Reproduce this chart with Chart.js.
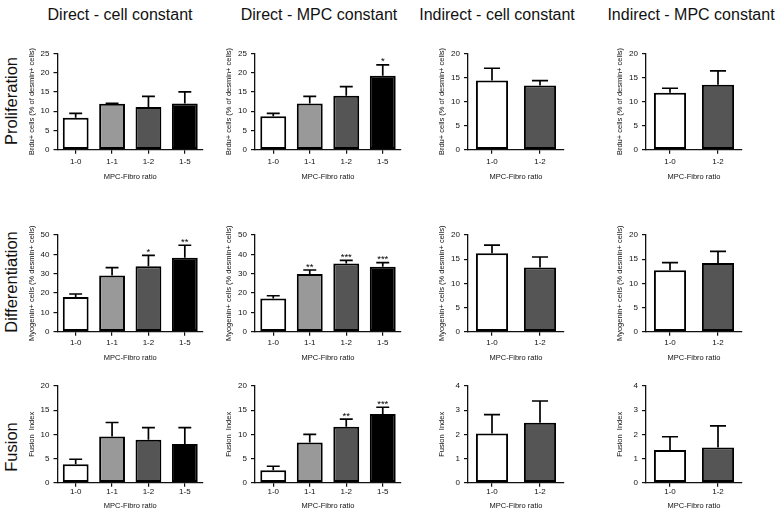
<!DOCTYPE html>
<html><head><meta charset="utf-8">
<script src="https://cdn.jsdelivr.net/npm/chart.js@4.4.1/dist/chart.umd.min.js"></script>
<style>
html,body{margin:0;padding:0;background:#fff}
body{width:778px;height:511px;position:relative;overflow:hidden;font-family:"Liberation Sans",Arial,Helvetica,sans-serif;color:#111}
.t{position:absolute;font-size:16px;white-space:nowrap;transform:translate(-50%,-50%)}
.r{position:absolute;font-size:16.5px;white-space:nowrap;transform:translate(-50%,-50%) rotate(-90deg)}
canvas{position:absolute}
</style></head><body>
<script>
// ---- categories / labels ----
const directCats = ['1-0', '1-1', '1-2', '1-5'];
const indirectCats = ['1-0', '1-2'];
const colTitles = ['Direct - cell constant', 'Direct - MPC constant', 'Indirect - cell constant', 'Indirect - MPC constant'];
const rowTitles = ['Proliferation', 'Differentiation', 'Fusion'];
const yTitles = ['Brdu+ cells (% of desmin+ cells)', 'Myogenin+ cells (% desmin+ cells)', 'Fusion  Index'];
const xTitle = 'MPC-Fibro ratio';

// ---- y-axis ranges (tick labels) ----
const directYMax = [25, 50, 20];
const directYStep = [5, 10, 5];
const indirectYMax = [20, 20, 4];
const indirectYStep = [5, 5, 1];

// ---- Proliferation ----
const prolifDirectCellMean = [8.3, 11.9, 11.1, 12.0];
const prolifDirectCellSem  = [1.1, 0.15, 2.75, 3.0];
const prolifDirectCellStars = ['', '', '', ''];
const prolifDirectMpcMean = [8.65, 12.0, 14.0, 19.2];
const prolifDirectMpcSem  = [0.75, 1.85, 2.35, 2.8];
const prolifDirectMpcStars = ['', '', '', '*'];
const prolifIndirectCellMean = [14.35, 13.3];
const prolifIndirectCellSem  = [2.55, 1.05];
const prolifIndirectMpcMean = [11.8, 13.45];
const prolifIndirectMpcSem  = [0.95, 2.9];

// ---- Differentiation ----
const diffDirectCellMean = [17.9, 29.1, 33.8, 38.3];
const diffDirectCellSem  = [1.6, 4.0, 5.7, 6.4];
const diffDirectCellStars = ['', '', '*', '**'];
const diffDirectMpcMean = [17.2, 29.8, 35.2, 33.6];
const diffDirectMpcSem  = [1.4, 2.1, 1.7, 2.1];
const diffDirectMpcStars = ['', '**', '***', '***'];
const diffIndirectCellMean = [16.2, 13.3];
const diffIndirectCellSem  = [1.7, 2.15];
const diffIndirectMpcMean = [12.7, 14.2];
const diffIndirectMpcSem  = [1.6, 2.4];

// ---- Fusion ----
const fusDirectCellMean = [3.8, 9.55, 8.9, 8.0];
const fusDirectCellSem  = [1.05, 2.9, 2.5, 3.4];
const fusDirectCellStars = ['', '', '', ''];
const fusDirectMpcMean = [2.55, 8.3, 11.55, 14.2];
const fusDirectMpcSem  = [0.85, 1.7, 1.6, 1.4];
const fusDirectMpcStars = ['', '', '**', '***'];
const fusIndirectCellMean = [2.04, 2.48];
const fusIndirectCellSem  = [0.78, 0.9];
const fusIndirectMpcMean = [1.35, 1.46];
const fusIndirectMpcSem  = [0.55, 0.89];

// ---- styling / layout (not data) ----
const catColor = {'1-0': '#ffffff', '1-1': '#999999', '1-2': '#555555', '1-5': '#000000'};
const FONT = '"Liberation Sans", Arial, Helvetica, sans-serif';
const cols = [
  {axis: 57.5, end: 203, cx: 120},
  {axis: 255, end: 401, cx: 319},
  {axis: 468, end: 564, cx: 497},
  {axis: 646, end: 742, cx: 691}
];
const rows = [
  {top: 53.3, bottom: 149.7, tickOff: 12, titleOff: 27, cy: 101},
  {top: 235, bottom: 331.7, tickOff: 11.5, titleOff: 26, cy: 282},
  {top: 386, bottom: 482.7, tickOff: 9.5, titleOff: 23.5, cy: 447}
];

const panels = [
  [
    {cats: directCats, mean: prolifDirectCellMean, sem: prolifDirectCellSem, stars: prolifDirectCellStars},
    {cats: directCats, mean: prolifDirectMpcMean, sem: prolifDirectMpcSem, stars: prolifDirectMpcStars},
    {cats: indirectCats, mean: prolifIndirectCellMean, sem: prolifIndirectCellSem, stars: ['', '']},
    {cats: indirectCats, mean: prolifIndirectMpcMean, sem: prolifIndirectMpcSem, stars: ['', '']}
  ],
  [
    {cats: directCats, mean: diffDirectCellMean, sem: diffDirectCellSem, stars: diffDirectCellStars},
    {cats: directCats, mean: diffDirectMpcMean, sem: diffDirectMpcSem, stars: diffDirectMpcStars},
    {cats: indirectCats, mean: diffIndirectCellMean, sem: diffIndirectCellSem, stars: ['', '']},
    {cats: indirectCats, mean: diffIndirectMpcMean, sem: diffIndirectMpcSem, stars: ['', '']}
  ],
  [
    {cats: directCats, mean: fusDirectCellMean, sem: fusDirectCellSem, stars: fusDirectCellStars},
    {cats: directCats, mean: fusDirectMpcMean, sem: fusDirectMpcSem, stars: fusDirectMpcStars},
    {cats: indirectCats, mean: fusIndirectCellMean, sem: fusIndirectCellSem, stars: ['', '']},
    {cats: indirectCats, mean: fusIndirectMpcMean, sem: fusIndirectMpcSem, stars: ['', '']}
  ]
];

// titles as real text
colTitles.forEach((t, c) => {
  const d = document.createElement('div');
  d.className = 't'; d.textContent = t;
  d.style.left = cols[c].cx + 'px'; d.style.top = '15px';
  document.body.appendChild(d);
});
rowTitles.forEach((t, r) => {
  const d = document.createElement('div');
  d.className = 'r'; d.textContent = t;
  d.style.left = '11px'; d.style.top = rows[r].cy + 'px';
  document.body.appendChild(d);
});

const errorBarPlugin = {
  id: 'errbars',
  afterDatasetsDraw(chart) {
    const ctx = chart.ctx;
    const meta = chart.getDatasetMeta(0);
    const ys = chart.scales.y;
    const ds = chart.data.datasets[0];
    ctx.save();
    ctx.strokeStyle = '#000';
    ctx.lineWidth = 1.7;
    meta.data.forEach((bar, i) => {
      const top = ys.getPixelForValue(ds.data[i] + ds.sem[i]);
      const half = bar.width * 0.25;
      ctx.beginPath();
      ctx.moveTo(bar.x, bar.y);
      ctx.lineTo(bar.x, top);
      ctx.moveTo(bar.x - half, top);
      ctx.lineTo(bar.x + half, top);
      ctx.stroke();
      const s = ds.stars[i];
      if (s) {
        ctx.fillStyle = '#000';
        ctx.font = '9.5px ' + FONT;
        ctx.textAlign = 'center';
        ctx.textBaseline = 'alphabetic';
        ctx.fillText(s, bar.x, top - 0.5);
      }
    });
    ctx.restore();
  }
};

const FS = 8;
const LH = FS * 1.2;
const TS = 7.5;
const TLH = TS * 1.2;

panels.forEach((rowPanels, r) => {
  rowPanels.forEach((p, c) => {
    const col = cols[c], row = rows[r];
    const left = Math.round(col.axis - 40);
    const yW = col.axis - left;
    const top = Math.floor(row.top) - 12;
    const padTop = row.top - top;
    const plotH = row.bottom - row.top;
    const xH = 38;
    const H = Math.ceil(padTop + plotH + xH);
    const padBottom = H - (padTop + plotH + xH);
    const W = Math.round(col.end - left + 8);
    const padRight = W - (col.end - left);
    const cv = document.createElement('canvas');
    cv.width = W; cv.height = H;
    cv.style.left = left + 'px'; cv.style.top = top + 'px';
    cv.style.width = W + 'px'; cv.style.height = H + 'px';
    document.body.appendChild(cv);
    const direct = p.cats.length === 4;
    new Chart(cv, {
      type: 'bar',
      data: {
        labels: p.cats,
        datasets: [{
          data: p.mean,
          sem: p.sem,
          stars: p.stars,
          backgroundColor: p.cats.map(k => catColor[k]),
          borderColor: '#000',
          borderWidth: 2,
          borderSkipped: false,
          barPercentage: direct ? 0.71 : 0.67,
          categoryPercentage: 1
        }]
      },
      options: {
        responsive: false,
        animation: false,
        devicePixelRatio: 1,
        layout: {padding: {top: padTop, right: padRight, bottom: padBottom, left: 0}},
        plugins: {legend: {display: false}, tooltip: {enabled: false}},
        scales: {
          x: {
            offset: true,
            grid: {offset: false, drawOnChartArea: false, drawTicks: true, tickLength: 4, color: '#111', lineWidth: 1.2},
            border: {display: true, color: '#111', width: 1.3},
            ticks: {font: {family: FONT, size: FS}, color: '#111', padding: row.tickOff - 4 - LH / 2, maxRotation: 0, autoSkip: false},
            title: {display: true, text: xTitle, font: {family: FONT, size: TS}, color: '#111', padding: {top: 0, bottom: xH - row.titleOff - TLH / 2}},
            afterFit(s) { s.height = xH; }
          },
          y: {
            min: 0,
            max: direct ? directYMax[r] : indirectYMax[r],
            ticks: {stepSize: direct ? directYStep[r] : indirectYStep[r], font: {family: FONT, size: FS}, color: '#111', padding: 4},
            grid: {drawOnChartArea: false, drawTicks: true, tickLength: 4, color: '#111', lineWidth: 1.2},
            border: {display: true, color: '#111', width: 1.3},
            title: {display: true, text: yTitles[r], font: {family: FONT, size: TS}, color: '#111', padding: {top: 9, bottom: 0}},
            afterFit(s) { s.width = yW; }
          }
        }
      },
      plugins: [errorBarPlugin]
    });
  });
});
</script>
</body></html>
